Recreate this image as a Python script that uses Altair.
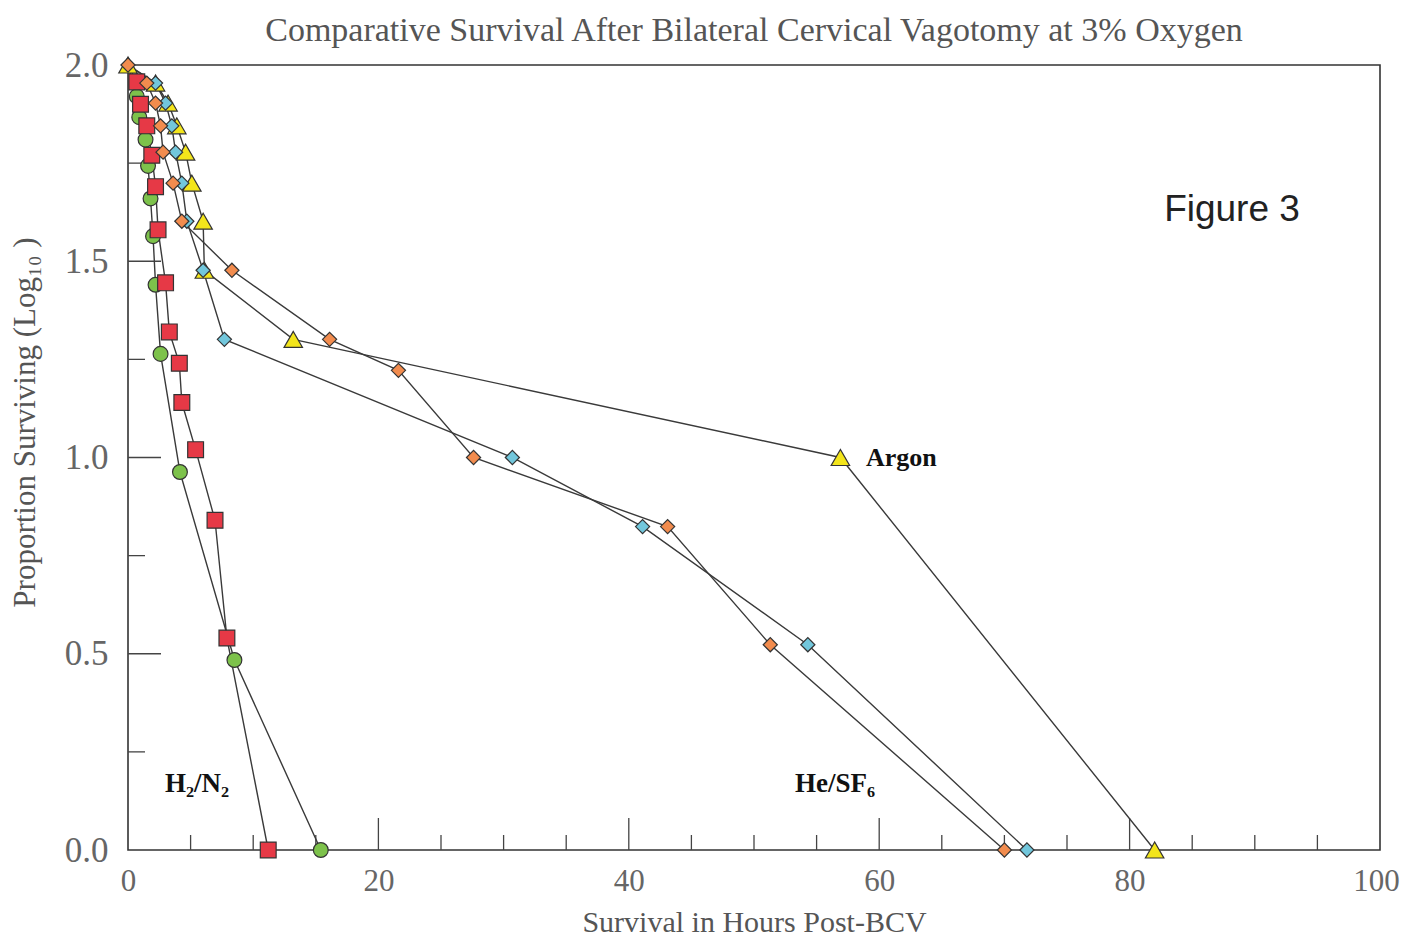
import altair as alt
import pandas as pd

# ---------------- data ----------------
argon_x = [0.0, 2.2, 3.2, 3.9, 4.6, 5.1, 6.0, 6.1, 13.2, 56.9, 82.0]
argon_y = [2.0, 1.954, 1.903, 1.845, 1.778, 1.699, 1.602, 1.477, 1.301, 1.0, 0.0]

blue_x = [0.0, 2.2, 3.0, 3.5, 3.8, 4.3, 4.7, 6.0, 7.7, 30.7, 41.1, 54.3, 71.8]
blue_y = [2.0, 1.954, 1.903, 1.845, 1.778, 1.699, 1.602, 1.477, 1.301, 1.0, 0.824, 0.523, 0.0]

orange_x = [0.0, 1.5, 2.2, 2.6, 2.8, 3.6, 4.3, 8.3, 16.1, 21.6, 27.6, 43.1, 51.3, 70.0]
orange_y = [2.0, 1.954, 1.903, 1.845, 1.778, 1.699, 1.602, 1.477, 1.301, 1.222, 1.0, 0.824, 0.523, 0.0]

green_x = [0.0, 0.7, 0.9, 1.4, 1.6, 1.8, 2.0, 2.2, 2.6, 4.15, 8.5, 15.4]
green_y = [2.0, 1.92, 1.867, 1.81, 1.743, 1.66, 1.564, 1.44, 1.264, 0.963, 0.484, 0.0]

red_x = [0.0, 0.7, 1.0, 1.5, 1.9, 2.2, 2.4, 3.0, 3.3, 4.1, 4.3, 5.4, 6.95, 7.9, 11.2]
red_y = [2.0, 1.957, 1.90, 1.845, 1.77, 1.69, 1.58, 1.445, 1.32, 1.24, 1.14, 1.02, 0.84, 0.54, 0.0]

x_major_ticks = [20, 40, 60, 80]
x_minor_ticks = [5, 10, 15, 25, 30, 35, 45, 50, 55, 65, 70, 75, 85, 90, 95]
x_label_values = [0, 20, 40, 60, 80, 100]
y_major_ticks = [0.5, 1.0, 1.5]
y_minor_ticks = [0.25, 0.75, 1.25, 1.75]
y_label_values = [0.0, 0.5, 1.0, 1.5, 2.0]

title_text = "Comparative Survival After Bilateral Cervical Vagotomy at 3% Oxygen"
x_title = "Survival in Hours Post-BCV"
y_title = "Proportion Surviving (Log\u2081\u2080 )"

# ---------------- layout / style ----------------
W, H = 1252, 785
SERIF = "Liberation Serif"
LINE = "#3a3a3a"

# drawing order: later entries on top; last flag = show marker at the origin
series = [
    ("Argon", argon_x, argon_y, "triangle-up", "#F3E51B", 340, True),
    ("Blue", blue_x, blue_y, "diamond", "#72C7DC", 200, False),
    ("Green", green_x, green_y, "circle", "#7DC24B", 220, False),
    ("Red", red_x, red_y, "square", "#E63946", 250, False),
    ("Orange", orange_x, orange_y, "diamond", "#F28C4E", 200, True),
]

frames = []
for name, xs, ys, *_ in series:
    frames.append(pd.DataFrame({"series": name, "x": xs, "y": ys, "i": range(len(xs))}))
df = pd.concat(frames, ignore_index=True)

x_axis = alt.Axis(
    values=x_label_values, ticks=False, domain=False, grid=False,
    labelFont=SERIF, labelFontSize=31, labelColor="#666", labelPadding=16,
    labelFlush=False,
    labelOffset=alt.condition("datum.value == 100", alt.value(-4), alt.value(0)),
    title=x_title, titleFont=SERIF, titleFontSize=30,
    titleFontWeight="normal", titleColor="#555", titleY=72, titleBaseline="middle",
)
y_axis = alt.Axis(
    values=y_label_values, format=".1f", ticks=False, domain=False, grid=False,
    labelFont=SERIF, labelFontSize=35, labelColor="#666", labelPadding=20,
    labelFlush=False, title=y_title, titleFont=SERIF, titleFontSize=31,
    titleFontWeight="normal", titleColor="#555", titleX=-103, titleY=357,
    titleBaseline="middle",
)
X = alt.X("x:Q", scale=alt.Scale(domain=[0, 100], nice=False, zero=False), axis=x_axis)
Y = alt.Y("y:Q", scale=alt.Scale(domain=[0, 2], nice=False), axis=y_axis)

lines = alt.Chart(df).mark_line(color=LINE, strokeWidth=1.4).encode(
    x=X, y=Y, detail="series:N", order="i:Q"
)

layers = [lines]
for name, xs, ys, shape, fill, size, show_origin in series:
    sub = df[df["series"] == name]
    if not show_origin:
        sub = sub[sub["i"] > 0]
    layers.append(
        alt.Chart(sub).mark_point(
            shape=shape, filled=True, fill=fill, stroke="#333", strokeWidth=1.2,
            size=size, opacity=1, fillOpacity=1,
        ).encode(x=X, y=Y)
    )

# inward tick marks
xt_major = alt.Chart(pd.DataFrame({"x": x_major_ticks})).mark_rule(color="#444", strokeWidth=1.3).encode(
    x=X, y=alt.value(H), y2=alt.value(H - 32))
xt_minor = alt.Chart(pd.DataFrame({"x": x_minor_ticks})).mark_rule(color="#444", strokeWidth=1.3).encode(
    x=X, y=alt.value(H), y2=alt.value(H - 15))
yt_major = alt.Chart(pd.DataFrame({"y": y_major_ticks})).mark_rule(color="#444", strokeWidth=1.3).encode(
    y=Y, x=alt.value(0), x2=alt.value(33))
yt_minor = alt.Chart(pd.DataFrame({"y": y_minor_ticks})).mark_rule(color="#444", strokeWidth=1.3).encode(
    y=Y, x=alt.value(0), x2=alt.value(17))

def label(text, px, py, font, size, weight, align="left", color="#111"):
    return alt.Chart(pd.DataFrame({"t": [text]})).mark_text(
        font=font, fontSize=size, fontWeight=weight, align=align, baseline="middle", color=color
    ).encode(text="t:N", x=alt.value(px), y=alt.value(py))

annotations = [
    label("Figure 3", 1104, 145, "Liberation Sans", 37, "normal", "center", "#222"),
    label("Argon", 738, 393, SERIF, 26, "bold"),
    label("H\u2082/N\u2082", 69, 719, SERIF, 27, "bold", "center"),
    label("He/SF\u2086", 707, 719, SERIF, 27, "bold", "center"),
]

chart = alt.layer(xt_major, xt_minor, yt_major, yt_minor, *layers, *annotations).properties(
    width=W, height=H,
    title=alt.TitleParams(title_text, font=SERIF, fontSize=34, fontWeight="normal",
                          color="#555", anchor="middle", offset=0),
    padding={"left": 120, "top": 57, "right": 21, "bottom": 87},
    autosize=alt.AutoSizeParams(type="none"),
).configure(background="white").configure_view(stroke="#333", strokeWidth=1.6)

chart.save("out.html", embed_options={"renderer": "svg", "actions": False})
